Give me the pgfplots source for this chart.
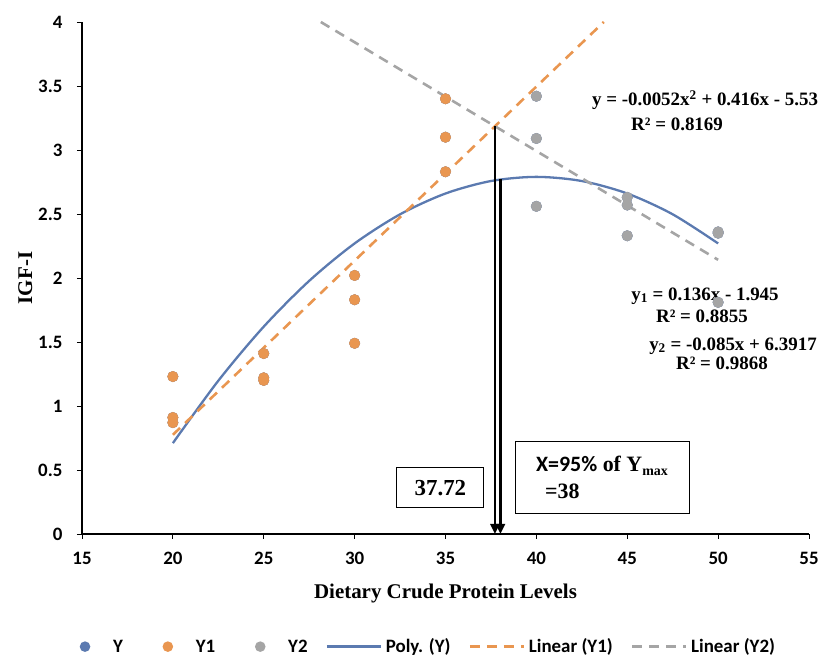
\documentclass[border=0pt]{standalone}
\usepackage{pgfplots}
\pgfplotsset{compat=1.18}
\usepackage{fontspec}
\setmainfont{Liberation Serif}
\newfontfamily\calib{Carlito}
\usetikzlibrary{arrows.meta}

\definecolor{cY}{RGB}{91,122,176}
\definecolor{cYa}{RGB}{233,150,80}
\definecolor{cYb}{RGB}{165,165,165}

\pgfplotsset{
  longline/.style={legend image code/.code={
      \path[draw=none, fill=none] (0bp,0bp) -- (57bp,0bp);
      \draw[##1] (0bp,0bp) -- (54bp,0bp);}},
  dotimg/.style={legend image code/.code={
      \path[draw=none, fill=none] (0bp,0bp) -- (53bp,0bp);
      \fill[#1, draw=none] (27bp,0bp) circle (5.3bp);}},
}

\begin{document}
\begin{tikzpicture}
\begin{axis}[
    scale only axis,
    width=727bp, height=512bp,
    xmin=15, xmax=55, ymin=0, ymax=4,
    xtick={15,20,...,55},
    ytick={0,0.5,...,4},
    axis lines=left,
    axis line style={-, line width=1.3bp},
    tick align=outside,
    major tick length=5bp,
    tick style={black, line width=0.8bp},
    ticklabel style={font=\calib\bfseries\fontsize{19}{19}\selectfont},
    xticklabel style={yshift=-10bp},
    yticklabel style={xshift=-11bp},
    /pgf/number format/assume math mode=true,
    xlabel={\bfseries\fontsize{21}{21}\selectfont Dietary Crude Protein Levels},
    ylabel={\bfseries\fontsize{21}{21}\selectfont IGF-I},
    xlabel style={yshift=-12bp},
    ylabel style={yshift=-1bp},
    clip=false,
    legend style={at={(0.4615,-0.22)}, anchor=center, draw=none,
        legend columns=6,
        font=\calib\bfseries\fontsize{19}{19}\selectfont,
        /tikz/every even column/.append style={column sep=16bp}},
]
% Y (combined data, hidden below Y1/Y2)
\addplot[only marks, mark=*, mark size=5.3bp, color=cY, dotimg=cY] coordinates {
    (20,1.23) (20,0.91) (20,0.87)
    (25,1.41) (25,1.22) (25,1.20)
    (30,2.02) (30,1.83) (30,1.49)
    (35,3.40) (35,3.10) (35,2.83)
    (40,3.42) (40,3.09) (40,2.56)
    (45,2.63) (45,2.57) (45,2.33)
    (50,2.36) (50,2.35) (50,1.81)
};
\addlegendentry{Y}
% Y1
\addplot[only marks, mark=*, mark size=5.3bp, color=cYa, dotimg=cYa] coordinates {
    (20,1.23) (20,0.91) (20,0.87)
    (25,1.41) (25,1.22) (25,1.20)
    (30,2.02) (30,1.83) (30,1.49)
    (35,3.40) (35,3.10) (35,2.83)
};
\addlegendentry{Y1}
% Y2
\addplot[only marks, mark=*, mark size=5.3bp, color=cYb, dotimg=cYb] coordinates {
    (40,3.42) (40,3.09) (40,2.56)
    (45,2.63) (45,2.57) (45,2.33)
    (50,2.36) (50,2.35) (50,1.81)
};
\addlegendentry{Y2}
% Poly. (Y): y = -0.0052x^2 + 0.416x - 5.53
\addplot[color=cY, line width=2.3bp, smooth, no marks, longline] coordinates {
    (20,0.71) (22.5,1.1975) (25,1.62) (27.5,1.9775) (30,2.27)
    (32.5,2.4975) (35,2.66) (37.5,2.7575) (40,2.79) (42.5,2.7575)
    (45,2.66) (47.5,2.4975) (50,2.27)
};
\addlegendentry{Poly. (Y)}
% Linear (Y1): y = 0.136x - 1.945
\addplot[color=cYa, line width=2.6bp, dash pattern=on 10bp off 7bp, no marks, longline] coordinates {
    (20,0.775) (43.71,4.0)
};
\addlegendentry{Linear (Y1)}
% Linear (Y2): y = -0.085x + 6.3917
\addplot[color=cYb, line width=2.6bp, dash pattern=on 10bp off 7bp, no marks, longline] coordinates {
    (28.14,4.0) (50,2.1417)
};
\addlegendentry{Linear (Y2)}

% arrows
\draw[black, line width=2.4bp, -{Triangle[width=9bp,length=10bp]}]
    (axis cs:37.72,3.185) -- (axis cs:37.72,0);
\draw[black, line width=2.4bp, -{Triangle[width=9bp,length=10bp]}]
    (axis cs:38.02,2.77) -- (axis cs:38.02,0);

% equations
\node[font=\bfseries\fontsize{19}{19}\selectfont] at (axis cs:49.28,3.39)
    {y = -0.0052x\textsuperscript{2} + 0.416x - 5.53};
\node[font=\bfseries\fontsize{19}{19}\selectfont] at (axis cs:47.74,3.20)
    {R² = 0.8169};
\node[font=\bfseries\fontsize{19}{19}\selectfont] at (axis cs:49.28,1.86)
    {y\textsubscript{1} = 0.136x - 1.945};
\node[font=\bfseries\fontsize{19}{19}\selectfont] at (axis cs:49.11,1.70)
    {R² = 0.8855};
\node[font=\bfseries\fontsize{19}{19}\selectfont] at (axis cs:50.82,1.47)
    {y\textsubscript{2} = -0.085x + 6.3917};
\node[font=\bfseries\fontsize{19}{19}\selectfont] at (axis cs:50.21,1.33)
    {R² = 0.9868};

% boxes
\node[draw, line width=0.9bp, minimum width=87bp, minimum height=40bp,
    font=\bfseries\fontsize{23}{23}\selectfont] at (axis cs:34.72,0.36) {37.72};
\node[draw, line width=0.9bp, minimum width=174bp, minimum height=72bp,
    align=left, font=\bfseries\fontsize{22}{26}\selectfont] at (axis cs:43.61,0.445)
    {{\calib X=95\%} of Y\raisebox{-4bp}{\fontsize{14}{14}\selectfont max}\\[1bp]
     \ \,=38};
\end{axis}
\path ([shift={(-82bp,-123bp)}]current axis.south west)
    rectangle ([shift={(26bp,22bp)}]current axis.north east);
\end{tikzpicture}
\end{document}
